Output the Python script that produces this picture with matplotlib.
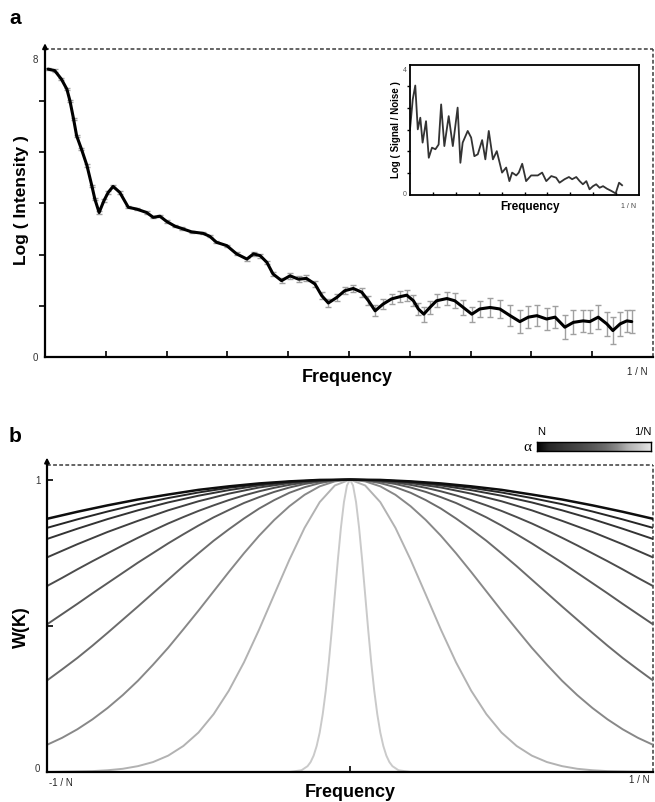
import numpy as np
import matplotlib
matplotlib.use('Agg')
import matplotlib.pyplot as plt
from matplotlib.colors import LinearSegmentedColormap

plt.rcParams['font.family'] = ['Liberation Sans', 'DejaVu Sans']

# ---------------- Panel a: main spectrum ----------------
freq_a = [0.005, 0.016, 0.027, 0.036, 0.041, 0.047, 0.052, 0.060, 0.069, 0.077,
          0.082, 0.089, 0.097, 0.104, 0.112, 0.123, 0.137, 0.151, 0.167, 0.178,
          0.189, 0.200, 0.214, 0.225, 0.241, 0.260, 0.271, 0.282, 0.299, 0.315,
          0.332, 0.343, 0.354, 0.365, 0.375, 0.389, 0.403, 0.417, 0.430, 0.444,
          0.455, 0.466, 0.480, 0.493, 0.507, 0.521, 0.532, 0.543, 0.556, 0.570,
          0.584, 0.595, 0.606, 0.614, 0.623, 0.633, 0.644, 0.661, 0.674, 0.688,
          0.702, 0.715, 0.732, 0.748, 0.765, 0.781, 0.795, 0.809, 0.825, 0.839,
          0.855, 0.869, 0.885, 0.896, 0.910, 0.924, 0.934, 0.946, 0.957, 0.965]
log_intensity = [7.73, 7.69, 7.46, 7.19, 6.88, 6.39, 5.94, 5.58, 5.14, 4.60,
                 4.24, 3.88, 4.20, 4.42, 4.58, 4.42, 4.02, 3.97, 3.88, 3.75,
                 3.78, 3.64, 3.51, 3.45, 3.36, 3.32, 3.24, 3.08, 2.99, 2.77,
                 2.63, 2.77, 2.72, 2.54, 2.23, 2.05, 2.18, 2.09, 2.11, 1.96,
                 1.65, 1.45, 1.60, 1.78, 1.84, 1.74, 1.51, 1.24, 1.42, 1.56,
                 1.62, 1.66, 1.51, 1.29, 1.15, 1.33, 1.51, 1.57, 1.51, 1.33,
                 1.15, 1.29, 1.33, 1.29, 1.11, 0.95, 1.07, 1.11, 1.02, 1.07,
                 0.80, 0.93, 0.97, 0.95, 1.07, 0.89, 0.71, 0.89, 0.97, 0.95]
err_a = [0.03, 0.03, 0.03, 0.03, 0.03, 0.03, 0.03, 0.03, 0.03, 0.03,
         0.03, 0.03, 0.03, 0.03, 0.03, 0.03, 0.03, 0.03, 0.03, 0.03,
         0.03, 0.03, 0.03, 0.03, 0.03, 0.03, 0.03, 0.03, 0.03, 0.04,
         0.04, 0.05, 0.05, 0.05, 0.06, 0.06, 0.08, 0.08, 0.08, 0.08,
         0.10, 0.12, 0.10, 0.10, 0.10, 0.12, 0.12, 0.15, 0.13, 0.13,
         0.15, 0.15, 0.15, 0.17, 0.20, 0.17, 0.17, 0.18, 0.20, 0.20,
         0.20, 0.22, 0.25, 0.25, 0.28, 0.30, 0.30, 0.28, 0.30, 0.30,
         0.33, 0.32, 0.30, 0.31, 0.33, 0.32, 0.36, 0.33, 0.30, 0.30]

# inset: signal / noise
freq_in = [0.000, 0.012, 0.023, 0.034, 0.045, 0.055, 0.070, 0.082, 0.096, 0.111,
           0.125, 0.136, 0.150, 0.169, 0.187, 0.208, 0.220, 0.230, 0.252, 0.267,
           0.281, 0.296, 0.315, 0.329, 0.344, 0.362, 0.379, 0.402, 0.420, 0.434,
           0.446, 0.464, 0.475, 0.490, 0.507, 0.529, 0.558, 0.577, 0.595, 0.617,
           0.638, 0.653, 0.675, 0.694, 0.708, 0.726, 0.741, 0.755, 0.770, 0.784,
           0.799, 0.813, 0.828, 0.843, 0.860, 0.879, 0.898, 0.913, 0.926]
log_snr = [2.08, 3.03, 3.47, 2.08, 2.45, 1.66, 2.34, 1.18, 1.50, 1.45,
           1.60, 2.87, 1.55, 2.50, 1.55, 2.77, 1.02, 1.66, 2.03, 1.82,
           1.23, 1.29, 1.74, 1.13, 2.03, 1.13, 1.39, 0.71, 0.87, 0.44,
           0.71, 0.62, 0.71, 0.99, 0.44, 0.62, 0.62, 0.71, 0.44, 0.60,
           0.55, 0.39, 0.50, 0.57, 0.50, 0.57, 0.44, 0.34, 0.44, 0.18,
           0.28, 0.34, 0.23, 0.28, 0.20, 0.13, 0.05, 0.39, 0.31]

# ---------------- Panel b: weighting functions (half curves, symmetric) ----------------
k_wide = [0.0, 0.1, 0.2, 0.3, 0.4, 0.5, 0.6, 0.7, 0.8, 0.9, 1.0]
w_curves_wide = [
    [1.000, 0.999, 0.994, 0.987, 0.977, 0.965, 0.949, 0.932, 0.912, 0.890, 0.866],
    [1.000, 0.998, 0.993, 0.984, 0.972, 0.956, 0.937, 0.916, 0.891, 0.864, 0.835],
    [1.000, 0.998, 0.991, 0.980, 0.964, 0.945, 0.922, 0.895, 0.865, 0.832, 0.797],
    [1.000, 0.997, 0.988, 0.973, 0.952, 0.926, 0.895, 0.859, 0.821, 0.779, 0.734],
]
k_fine = [0.0, 0.05, 0.1, 0.15, 0.2, 0.25, 0.3, 0.35, 0.4, 0.45, 0.5,
          0.55, 0.6, 0.65, 0.7, 0.75, 0.8, 0.85, 0.9, 0.95, 1.0]
w_curves_fine = [
    [1.000, 0.999, 0.995, 0.990, 0.982, 0.972, 0.960, 0.946, 0.930, 0.912, 0.893,
     0.872, 0.850, 0.826, 0.801, 0.775, 0.748, 0.721, 0.693, 0.664, 0.636],
    [1.000, 0.998, 0.993, 0.985, 0.973, 0.958, 0.940, 0.920, 0.896, 0.871, 0.843,
     0.813, 0.782, 0.749, 0.716, 0.681, 0.646, 0.611, 0.575, 0.540, 0.505],
    [1.000, 0.997, 0.988, 0.974, 0.955, 0.930, 0.901, 0.867, 0.830, 0.791, 0.748,
     0.704, 0.658, 0.612, 0.566, 0.521, 0.476, 0.432, 0.390, 0.351, 0.313],
    [1.000, 0.994, 0.977, 0.948, 0.909, 0.862, 0.808, 0.748, 0.684, 0.618, 0.552,
     0.488, 0.425, 0.367, 0.312, 0.263, 0.219, 0.180, 0.146, 0.117, 0.093],
]
k_mid = [0.0, 0.05, 0.1, 0.15, 0.2, 0.25, 0.3, 0.35, 0.4, 0.45, 0.5, 0.55, 0.6,
         0.65, 0.7, 0.75, 0.8, 0.85, 0.9, 0.95, 1.0]
w_curve_mid = [1.000, 0.980, 0.923, 0.835, 0.726, 0.607, 0.487, 0.375, 0.278, 0.198,
               0.135, 0.089, 0.056, 0.034, 0.020, 0.011, 0.006, 0.003, 0.002, 0.001,
               0.000]
k_narrow = [0.0, 0.01, 0.02, 0.03, 0.04, 0.05, 0.06, 0.07, 0.08, 0.09, 0.10, 0.11,
            0.12, 0.13, 0.14, 0.16, 0.20, 1.0]
w_curve_narrow = [1.000, 0.980, 0.923, 0.835, 0.726, 0.607, 0.487, 0.375, 0.278, 0.198,
                  0.135, 0.089, 0.056, 0.034, 0.020, 0.006, 0.000, 0.000]
curve_colors = ['#0e0e0e', '#262626', '#333333', '#404040', '#4c4c4c',
                '#5a5a5a', '#6c6c6c', '#888888', '#b2b2b2', '#cacaca']

W, H = 655, 803
fig = plt.figure(figsize=(W / 100, H / 100), dpi=100)


def fx(px):
    return px / W


def fy(py):
    return 1 - py / H


frame_col = '#3a3a3a'

# ---------------- Panel a ----------------
ax = fig.add_axes([fx(45), fy(358), (653 - 45) / W, (358 - 50) / H])
ytop = 8.27
ax.set_xlim(0, 1)
ax.set_ylim(0, ytop)
for s in ['top', 'right']:
    ax.spines[s].set_visible(False)
for s in ['left', 'bottom']:
    ax.spines[s].set_linewidth(1.6)
ax.plot([0, 1], [ytop, ytop], ls=(0, (2.5, 1.5)), color=frame_col, lw=1.1, clip_on=False)
ax.plot([1, 1], [0, ytop], ls=(0, (2.5, 1.5)), color=frame_col, lw=1.1, clip_on=False)
ax.annotate('', xy=(0, 8.5), xytext=(0, 8.1),
            arrowprops=dict(arrowstyle='-|>', color='k', lw=1.4, mutation_scale=7),
            annotation_clip=False)

ax.errorbar(freq_a, log_intensity, yerr=err_a, fmt='none', ecolor='#a0a0a0',
            elinewidth=1.0, capsize=2.5, capthick=1.0, zorder=2)
ax.plot(freq_a, log_intensity, color='black', lw=2.2, zorder=3,
        solid_joinstyle='round', solid_capstyle='round')

ax.set_xticks([0.1 * i for i in range(1, 10)])
ax.set_xticklabels([])
ax.tick_params(axis='x', direction='in', length=4, width=1.2)
ax.set_yticks([1.375, 2.75, 4.125, 5.5, 6.875])
ax.set_yticklabels([])
ax.tick_params(axis='y', direction='out', length=4, width=1.2)

ax.text(-0.012, 0.0, '0', transform=ax.get_yaxis_transform(), ha='right', va='center',
        fontsize=7, color='#333333')
ax.text(-0.012, 8.0, '8', transform=ax.get_yaxis_transform(), ha='right', va='center',
        fontsize=7, color='#333333')
fig.text(fx(637), fy(372), '1 / N', ha='center', va='center', fontsize=7, color='#222222')
fig.text(fx(347), fy(378), 'Frequency', ha='center', va='center', fontsize=13,
         fontweight='bold')
fig.text(fx(22), fy(200), 'Log ( Intensity )', ha='center', va='center', fontsize=12.5,
         fontweight='bold', rotation=90)
fig.text(fx(15), fy(19), 'a', ha='center', va='center', fontsize=15, fontweight='bold')

# inset
axin = fig.add_axes([fx(410), fy(196), (639 - 410) / W, (196 - 66) / H])
axin.set_xlim(0, 1)
axin.set_ylim(0, 4.12)
for s in axin.spines.values():
    s.set_linewidth(1.3)
axin.plot(freq_in, log_snr, color='#333333', lw=1.3, solid_joinstyle='round')
axin.set_xticks([0.1 * i for i in range(1, 10)])
axin.set_xticklabels([])
axin.tick_params(axis='x', direction='in', length=2.5, width=1.0)
axin.set_yticks([0.69, 1.38, 2.07, 2.76, 3.45])
axin.set_yticklabels([])
axin.tick_params(axis='y', direction='out', length=2.5, width=1.0)
fig.text(fx(405), fy(70), '4', ha='center', va='center', fontsize=5, color='#555555')
fig.text(fx(405), fy(194), '0', ha='center', va='center', fontsize=5, color='#555555')
fig.text(fx(530), fy(207), 'Frequency', ha='center', va='center', fontsize=8.5,
         fontweight='bold')
fig.text(fx(629), fy(206), '1 / N', ha='center', va='center', fontsize=5, color='#444444')
fig.text(fx(396), fy(130), 'Log ( Signal / Noise )', ha='center', va='center',
         fontsize=7, fontweight='bold', rotation=90)

# ---------------- Panel b ----------------
axb = fig.add_axes([fx(47), fy(773), (653 - 47) / W, (773 - 466) / H])
btop = 1.05
axb.set_xlim(-1, 1)
axb.set_ylim(0, btop)
for s in ['top', 'right']:
    axb.spines[s].set_visible(False)
for s in ['left', 'bottom']:
    axb.spines[s].set_linewidth(1.6)
axb.plot([-1, 1], [btop, btop], ls=(0, (2.5, 1.5)), color=frame_col, lw=1.1, clip_on=False)
axb.plot([1, 1], [0, btop], ls=(0, (2.5, 1.5)), color=frame_col, lw=1.1, clip_on=False)
axb.annotate('', xy=(-1, 1.085), xytext=(-1, 1.03),
             arrowprops=dict(arrowstyle='-|>', color='k', lw=1.4, mutation_scale=7),
             annotation_clip=False)


def mirror(ks, ws):
    kk = [-k for k in ks[::-1]] + list(ks[1:])
    ww = list(ws[::-1]) + list(ws[1:])
    return kk, ww


half_curves = ([(k_wide, w) for w in w_curves_wide]
               + [(k_fine, w) for w in w_curves_fine]
               + [(k_mid, w_curve_mid), (k_narrow, w_curve_narrow)])
for i in range(len(half_curves) - 1, -1, -1):
    ks, ws = half_curves[i]
    kk, ww = mirror(ks, ws)
    lw = 1.8 if i == 0 else 1.4
    axb.plot(kk, ww, color=curve_colors[i], lw=lw, solid_joinstyle='round')

axb.set_xticks([0])
axb.set_xticklabels([])
axb.tick_params(axis='x', direction='in', length=4, width=1.2)
axb.set_yticks([0.5, 1.0])
axb.set_yticklabels([])
axb.tick_params(axis='y', direction='in', length=4, width=1.2)
fig.text(fx(38), fy(481), '1', ha='center', va='center', fontsize=7, color='#333333')
fig.text(fx(37), fy(769), '0', ha='center', va='center', fontsize=7, color='#333333')
fig.text(fx(61), fy(783), '-1 / N', ha='center', va='center', fontsize=7, color='#222222')
fig.text(fx(639), fy(780), '1 / N', ha='center', va='center', fontsize=7, color='#222222')
fig.text(fx(350), fy(793), 'Frequency', ha='center', va='center', fontsize=13,
         fontweight='bold')
fig.text(fx(21), fy(627), 'W(K)', ha='center', va='center', fontsize=13,
         fontweight='bold', rotation=90)
fig.text(fx(15), fy(437), 'b', ha='center', va='center', fontsize=15, fontweight='bold')

# alpha colour legend
cmap = LinearSegmentedColormap.from_list('alpha_grey', ['#000000'] + curve_colors[1:] + ['#e6e6e6'])
cax = fig.add_axes([fx(537), fy(452), (651 - 537) / W, 9 / H])
cax.imshow(np.linspace(0, 1, 256)[None, :], aspect='auto', cmap=cmap,
           extent=[0, 1, 0, 1])
cax.set_xticks([])
cax.set_yticks([])
for s in cax.spines.values():
    s.set_linewidth(1.0)
fig.text(fx(541), fy(432), 'N', ha='center', va='center', fontsize=8)
fig.text(fx(643), fy(432), '1/N', ha='center', va='center', fontsize=8)
fig.text(fx(527), fy(448), 'α', ha='center', va='center', fontsize=11,
         family=['Liberation Serif', 'DejaVu Serif'])

fig.savefig('out.png', dpi=100)
